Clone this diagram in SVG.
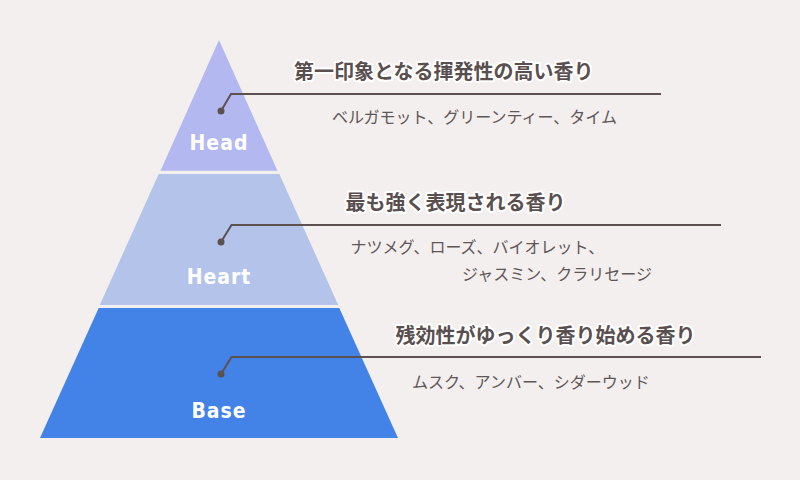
<svg xmlns="http://www.w3.org/2000/svg" width="800" height="480" viewBox="0 0 800 480">
<style>
.lvl{font-family:"DejaVu Sans","Noto Sans",sans-serif;font-stretch:condensed;font-weight:700;font-size:21px;fill:#ffffff;text-anchor:middle;letter-spacing:1px}
.ttl{font-family:"Noto Sans CJK JP","Noto Sans",sans-serif;font-weight:700;font-size:20px;fill:#5a4f4f;stroke:#ffffff;stroke-width:4px;stroke-linejoin:round;paint-order:stroke}
.sub{font-family:"Noto Sans CJK JP","Noto Sans",sans-serif;font-weight:400;font-size:16px;fill:#5f5656}
.ln{fill:none;stroke:#5d5050;stroke-width:2}
.dot{fill:#5d5050}
</style>
<rect width="800" height="480" fill="#f3efee"/>
<g id="head">
<polygon points="219,40 277.5,170.7 160.5,170.7" fill="#b3b9f0"/>
<text class="lvl" x="219" y="150">Head</text>
</g>
<g id="heart">
<polygon points="158.7,174 279.3,174 338.2,305 99.8,305" fill="#b3c3ea"/>
<text class="lvl" x="219" y="284">Heart</text>
</g>
<g id="base">
<polygon points="98.7,308 339.3,308 398,438 40,438" fill="#4382e6"/>
<text class="lvl" x="219" y="418">Base</text>
</g>
<g id="connectors">
<path class="ln" d="M221,111 L231,94 L661,94"/>
<circle class="dot" cx="221" cy="111" r="3.5"/>
<path class="ln" d="M221,242 L231.5,225 L721,225"/>
<circle class="dot" cx="221" cy="242" r="3.5"/>
<path class="ln" d="M221,374 L231.5,357 L761,357"/>
<circle class="dot" cx="221" cy="374" r="3.5"/>
</g>
<g id="head-text">
<text class="ttl" x="294" y="79">第一印象となる揮発性の高い香り</text>
<text class="sub" x="332" y="123">ベルガモット、グリーンティー、タイム</text>
</g>
<g id="heart-text">
<text class="ttl" x="345.5" y="210">最も強く表現される香り</text>
<text class="sub" x="350.5" y="253">ナツメグ、ローズ、バイオレット、</text>
<text class="sub" x="462" y="280">ジャスミン、クラリセージ</text>
</g>
<g id="base-text">
<text class="ttl" x="395.5" y="343">残効性がゆっくり香り始める香り</text>
<text class="sub" x="412" y="388">ムスク、アンバー、シダーウッド</text>
</g>
</svg>
